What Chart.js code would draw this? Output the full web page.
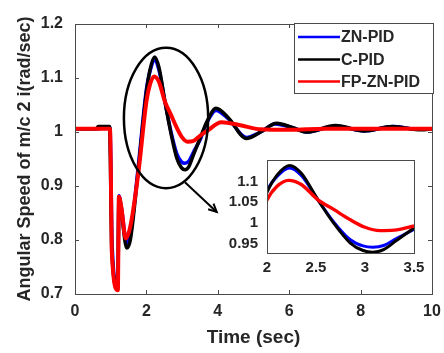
<!DOCTYPE html>
<html><head><meta charset="utf-8">
<script src="https://cdn.jsdelivr.net/npm/chart.js@4"></script>
<style>
html,body{margin:0;padding:0;background:#fff;}
#wrap{position:relative;width:444px;height:353px;overflow:hidden;}
#main{position:absolute;left:0;top:0;}
#inset{position:absolute;left:215px;top:150px;}
</style></head><body>
<div id="wrap"><canvas id="main" width="444" height="353"></canvas><canvas id="inset" width="215" height="135"></canvas></div>
<script>
// ---- data ----
const seriesNames = ['ZN-PID', 'C-PID', 'FP-ZN-PID'];
const timeZN  = [0, 0.6, 0.98, 1.0, 1.04, 1.2, 1.23, 1.3, 1.45, 1.55, 1.77, 2.0, 2.1, 2.23, 2.35, 2.52, 2.68, 2.85, 2.98, 3.08, 3.19, 3.32, 3.5, 3.7, 3.95, 4.3, 4.8, 5.2, 5.6, 6.1, 6.5, 7.3, 8.1, 8.9, 9.6, 10];
const speedZN = [1.006, 1.006, 1.008, 0.96, 0.79, 0.712, 0.882, 0.86, 0.795, 0.81, 0.935, 1.079, 1.112, 1.133, 1.115, 1.056, 1.003, 0.96, 0.945, 0.942, 0.946, 0.963, 0.985, 1.018, 1.04, 1.024, 0.99, 1.0, 1.015, 1.008, 1.0, 1.011, 1.002, 1.01, 1.005, 1.006];
const timeC   = [0, 0.6, 0.65, 0.97, 0.99, 1.03, 1.2, 1.23, 1.3, 1.45, 1.55, 1.77, 2.0, 2.1, 2.23, 2.35, 2.52, 2.68, 2.85, 2.98, 3.08, 3.19, 3.32, 3.5, 3.7, 3.95, 4.3, 4.8, 5.2, 5.65, 6.1, 6.5, 7.3, 8.1, 8.9, 9.7, 10];
const speedC  = [1.006, 1.006, 1.010, 1.010, 0.95, 0.78, 0.71, 0.875, 0.85, 0.785, 0.80, 0.928, 1.074, 1.115, 1.139, 1.12, 1.056, 1.0, 0.952, 0.934, 0.930, 0.936, 0.958, 0.988, 1.02, 1.044, 1.026, 0.988, 1.0, 1.016, 1.008, 1.0, 1.012, 1.002, 1.01, 1.004, 1.006];
const timeFP  = [0, 0.98, 1.0, 1.03, 1.2, 1.23, 1.3, 1.42, 1.55, 1.77, 2.0, 2.1, 2.22, 2.35, 2.52, 2.68, 2.85, 3.0, 3.15, 3.3, 3.5, 3.7, 4.1, 4.6, 5.2, 6.0, 7.0, 10];
const speedFP = [1.006, 1.006, 0.95, 0.78, 0.707, 0.88, 0.86, 0.803, 0.825, 0.922, 1.056, 1.088, 1.103, 1.093, 1.056, 1.033, 1.008, 0.99, 0.982, 0.983, 0.993, 1.002, 1.018, 1.013, 1.005, 1.004, 1.006, 1.006];
const xTicks = [0, 2, 4, 6, 8, 10];
const xTickLabels = ['0', '2', '4', '6', '8', '10'];
const yTicks = [0.7, 0.8, 0.9, 1.0, 1.1, 1.2];
const yTickLabels = ['0.7', '0.8', '0.9', '1', '1.1', '1.2'];
const insetXTicks = [2, 2.5, 3, 3.5];
const insetXTickLabels = ['2', '2.5', '3', '3.5'];
const insetYTicks = [0.95, 1.0, 1.05, 1.1];
const insetYTickLabels = ['0.95', '1', '1.05', '1.1'];
const xTitle = 'Time (sec)';
const yTitle = 'Angular Speed of m/c 2 i(rad/sec)';
// ellipse (centre t, centre value, half-width t, half-height value) and arrow (t0,v0 -> t1,v1)
const zoomEllipse = [2.55, 1.026, 1.18, 0.13];
const zoomArrow = [3.08, 0.907, 3.97, 0.852];

// ---- styling ----
const FONT = "'Liberation Sans', Arial, sans-serif";
const colors = ['#0000ff', '#000000', '#ff0000'];
const widths = [3.5, 3.5, 4];
const orders = [2, 1, 0];
const txt = '#262626';
const axisCol = '#4a4a4a';

function pts(t, v) { return t.map((x, i) => ({x: x, y: v[i]})); }
function makeDatasets(scale) {
  const data = [pts(timeZN, speedZN), pts(timeC, speedC), pts(timeFP, speedFP)];
  return data.map((d, i) => ({
    label: seriesNames[i], data: d, borderColor: colors[i], backgroundColor: colors[i],
    borderWidth: widths[i] * scale, pointRadius: 0, cubicInterpolationMode: 'monotone',
    order: orders[i], fill: false
  }));
}

const boxPlugin = {
  id: 'box',
  afterDatasetsDraw(chart, args, opts) {
    const {ctx, chartArea: a, scales} = chart;
    ctx.save();
    ctx.strokeStyle = axisCol; ctx.lineWidth = 1;
    ctx.strokeRect(Math.round(a.left) + 0.5, Math.round(a.top) + 0.5, Math.round(a.right - a.left), Math.round(a.bottom - a.top));
    if (opts.ticks) {
      const L = 4;
      ctx.beginPath();
      scales.x.ticks.forEach(t => {
        const px = Math.round(scales.x.getPixelForValue(t.value)) + 0.5;
        ctx.moveTo(px, a.bottom); ctx.lineTo(px, a.bottom - L);
        ctx.moveTo(px, a.top); ctx.lineTo(px, a.top + L);
      });
      scales.y.ticks.forEach(t => {
        const py = Math.round(scales.y.getPixelForValue(t.value)) + 0.5;
        ctx.moveTo(a.left, py); ctx.lineTo(a.left + L, py);
        ctx.moveTo(a.right, py); ctx.lineTo(a.right - L, py);
      });
      ctx.stroke();
    }
    if (opts.annot) {
      const x = scales.x, y = scales.y;
      const [ct, cv, rt, rv] = zoomEllipse;
      const cx = x.getPixelForValue(ct), cy = y.getPixelForValue(cv);
      const rx = x.getPixelForValue(ct + rt) - cx, ry = cy - y.getPixelForValue(cv + rv);
      ctx.strokeStyle = '#000'; ctx.lineWidth = 2.5;
      ctx.beginPath(); ctx.ellipse(cx, cy, rx, ry, 0, 0, Math.PI * 2); ctx.stroke();
      const [t0, v0, t1, v1] = zoomArrow;
      const x0 = x.getPixelForValue(t0), y0 = y.getPixelForValue(v0);
      const x1 = x.getPixelForValue(t1), y1 = y.getPixelForValue(v1);
      ctx.lineWidth = 2;
      ctx.beginPath(); ctx.moveTo(x0, y0); ctx.lineTo(x1, y1); ctx.stroke();
      const ang = Math.atan2(y1 - y0, x1 - x0), h = 9;
      ctx.beginPath();
      ctx.moveTo(x1 + h * Math.cos(ang + Math.PI - 0.45), y1 + h * Math.sin(ang + Math.PI - 0.45));
      ctx.lineTo(x1, y1);
      ctx.lineTo(x1 + h * Math.cos(ang + Math.PI + 0.45), y1 + h * Math.sin(ang + Math.PI + 0.45));
      ctx.stroke();
    }
    ctx.restore();
  },
  afterDraw(chart, args, opts) {
    if (!opts.legend) return;
    const {ctx} = chart;
    ctx.save();
    const L = 294.5, T = 23.5, R = 433.5, B = 93.5;
    ctx.fillStyle = '#fff'; ctx.fillRect(L, T, R - L, B - T);
    ctx.strokeStyle = axisCol; ctx.lineWidth = 1; ctx.strokeRect(L, T, R - L, B - T);
    const ys = [37, 59.5, 81.5];
    chart.data.datasets.forEach((ds, i) => {
      ctx.strokeStyle = ds.borderColor; ctx.lineWidth = 2.5;
      ctx.beginPath(); ctx.moveTo(298, ys[i]); ctx.lineTo(340, ys[i]); ctx.stroke();
      ctx.fillStyle = txt; ctx.font = 'bold 16px ' + FONT;
      ctx.textBaseline = 'middle'; ctx.textAlign = 'left';
      ctx.fillText(ds.label, 341, ys[i] + 1);
    });
    ctx.restore();
  }
};

const insetBg = {
  id: 'insetBg',
  beforeDatasetsDraw(chart, args, opts) {
    if (!opts.on) return;
    const {ctx, chartArea: a} = chart;
    ctx.save(); ctx.fillStyle = '#fff';
    ctx.fillRect(a.left, a.top, a.right - a.left, a.bottom - a.top);
    ctx.restore();
  }
};

function axisCfg(min, max, ticks, labels, opts) {
  return {
    type: 'linear', min: min, max: max,
    afterBuildTicks: s => { s.ticks = ticks.map(v => ({value: v})); },
    ticks: {
      autoSkip: false, maxRotation: 0, minRotation: 0, color: txt,
      font: {family: FONT, size: opts.tickSize, weight: 'bold'}, padding: opts.pad,
      callback: (v, i) => labels[i]
    },
    grid: {display: false, drawTicks: false},
    border: {display: false},
    title: opts.title ? {display: true, text: opts.title, color: txt,
      font: {family: FONT, size: opts.titleSize, weight: 'bold'}, padding: opts.titlePad} : {display: false},
    afterFit: opts.fit
  };
}

new Chart(document.getElementById('main'), {
  type: 'line',
  data: {datasets: makeDatasets(1)},
  options: {
    responsive: false, animation: false, maintainAspectRatio: false,
    layout: {padding: {top: 24, right: 12, left: 0, bottom: 0}},
    plugins: {legend: {display: false}, tooltip: {enabled: false},
      box: {ticks: true, annot: true, legend: true}, insetBg: {on: false}},
    scales: {
      x: axisCfg(0, 10, xTicks, xTickLabels, {tickSize: 16, pad: 8, title: xTitle, titleSize: 19,
        titlePad: {top: 0, bottom: 4},
        fit: s => { s.height = 59; s.paddingLeft = 0; s.paddingRight = 0; }}),
      y: axisCfg(0.7, 1.2, yTicks, yTickLabels, {tickSize: 16, pad: 12, title: yTitle, titleSize: 18,
        titlePad: {top: 14, bottom: 0},
        fit: s => { s.width = 75; s.paddingTop = 0; s.paddingBottom = 0; }})
    }
  },
  plugins: [boxPlugin, insetBg]
});

new Chart(document.getElementById('inset'), {
  type: 'line',
  data: {datasets: makeDatasets(0.85)},
  options: {
    responsive: false, animation: false, maintainAspectRatio: false,
    layout: {padding: {top: 10, right: 16, left: 0, bottom: 0}},
    plugins: {legend: {display: false}, tooltip: {enabled: false},
      box: {ticks: false, annot: false, legend: false}, insetBg: {on: true}},
    scales: {
      x: axisCfg(2, 3.5, insetXTicks, insetXTickLabels, {tickSize: 15, pad: 6,
        fit: s => { s.height = 32; s.paddingLeft = 0; s.paddingRight = 0; }}),
      y: axisCfg(0.928, 1.152, insetYTicks, insetYTickLabels, {tickSize: 15, pad: 9,
        fit: s => { s.width = 52; s.paddingTop = 0; s.paddingBottom = 0; }})
    }
  },
  plugins: [boxPlugin, insetBg]
});
</script>
</body></html>
